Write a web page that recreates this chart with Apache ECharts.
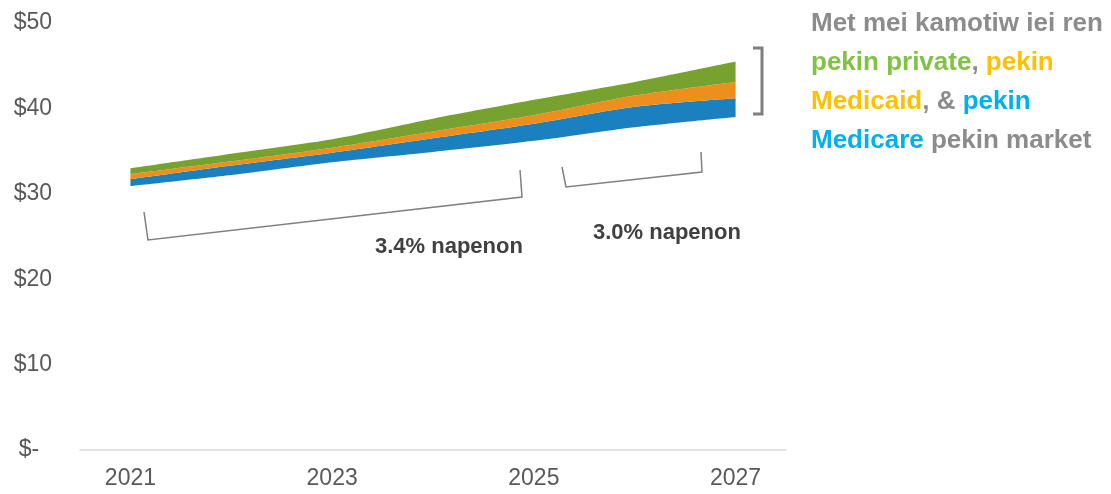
<!DOCTYPE html>
<html>
<head>
<meta charset="utf-8">
<script src="https://cdn.jsdelivr.net/npm/echarts@6/dist/echarts.min.js"></script>
<style>
html,body{margin:0;padding:0;background:#fff;}
#chart{width:1111px;height:494px;}
</style>
</head>
<body>
<div id="chart"></div>
<script>
const years = ['2021','2022','2023','2024','2025','2026','2027'];
const baseValues = [30.9, 32.2, 33.7, 34.9, 36.2, 37.8, 39.0];
const medicareValues = [0.8, 1.1, 1.1, 1.6, 2.0, 2.4, 2.2];
const medicaidValues = [0.6, 0.5, 0.6, 0.8, 1.0, 1.3, 1.9];
const privateValues = [0.7, 0.9, 1.0, 1.5, 1.8, 1.6, 2.4];
const yTickLabels = ['$-', '$10', '$20', '$30', '$40', '$50'];

const FONT = '"Liberation Sans", Arial, sans-serif';
const chart = echarts.init(document.getElementById('chart'));

function areaSeries(name, data, color) {
  return {
    name: name, type: 'line', stack: 'total', data: data,
    symbol: 'none', silent: true, smooth: 0.25,
    lineStyle: { width: 0 },
    areaStyle: color ? { color: color, opacity: 1 } : { opacity: 0 }
  };
}

const gray = '#8c8c8c', green = '#80c241', yellow = '#ffc000', blue = '#00b0f0';
const rt = (c) => ({ fill: c, color: c, fontSize: 26, fontWeight: 'bold', fontFamily: FONT, lineHeight: 39 });

chart.setOption({
  animation: false,
  backgroundColor: '#ffffff',
  grid: { left: 80, right: 325, top: 23, bottom: 44 },
  xAxis: {
    type: 'category', data: years, boundaryGap: true,
    axisLine: { lineStyle: { color: '#d9d9d9', width: 1.5 } },
    axisTick: { show: false },
    axisLabel: { interval: 1, color: '#595959', fontSize: 23, fontFamily: FONT, margin: 17 }
  },
  yAxis: {
    type: 'value', min: 0, max: 50, interval: 10,
    axisLine: { show: false }, axisTick: { show: false },
    splitLine: { show: false },
    axisLabel: {
      color: '#595959', fontSize: 23, fontFamily: FONT, margin: 28,
      formatter: (v) => yTickLabels[Math.round(v / 10)] + (v === 0 ? '  ' : '')
    }
  },
  series: [
    areaSeries('base', baseValues, null),
    areaSeries('Medicare', medicareValues, '#1b80c0'),
    areaSeries('Medicaid', medicaidValues, '#ee8e1c'),
    areaSeries('Private', privateValues, '#78a22f')
  ],
  graphic: [
    { type: 'polyline', z: 10, shape: { points: [[144,212],[148,240],[522,197],[520,170]] },
      style: { stroke: '#808080', lineWidth: 1.5, fill: null } },
    { type: 'polyline', z: 10, shape: { points: [[562,167],[566,187],[702,172],[701,152]] },
      style: { stroke: '#808080', lineWidth: 1.5, fill: null } },
    { type: 'polyline', z: 10, shape: { points: [[753,48],[762,48],[762,114],[753,114]] },
      style: { stroke: '#7f7f7f', lineWidth: 3, fill: null } },
    { type: 'text', z: 10, left: 375, top: 236,
      style: { text: '3.4% napenon', fill: '#404040', font: 'bold 22px ' + FONT } },
    { type: 'text', z: 10, left: 593, top: 222,
      style: { text: '3.0% napenon', fill: '#404040', font: 'bold 22px ' + FONT } },
    { type: 'text', z: 10, left: 811, top: 11,
      style: {
        text: '{a|Met mei kamotiw iei ren}\n{g|pekin private}{a|, }{y|pekin}\n{y|Medicaid}{a|, & }{b|pekin}\n{b|Medicare}{a| pekin market}',
        rich: { a: rt(gray), g: rt(green), y: rt(yellow), b: rt(blue) }
      } }
  ]
});
</script>
</body>
</html>
